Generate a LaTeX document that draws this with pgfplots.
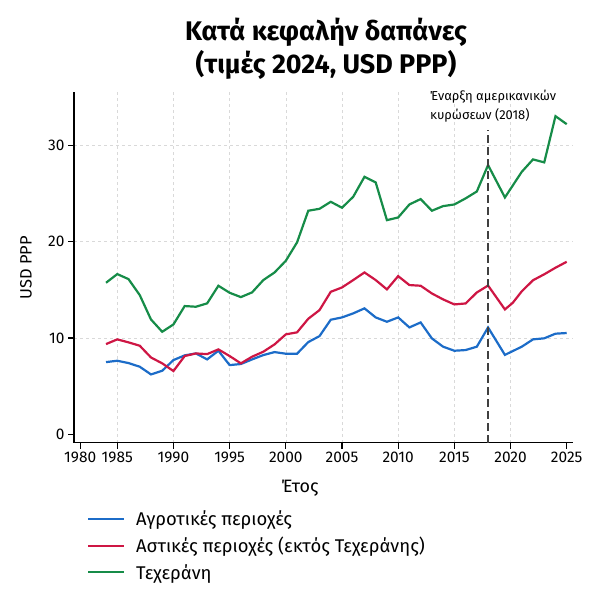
\documentclass[border=0pt]{standalone}
\usepackage{fontspec}
\setmainfont{Fira Sans}
\usepackage{pgfplots}
\pgfplotsset{compat=1.18}
\definecolor{cblue}{RGB}{28,108,200}
\definecolor{cred}{RGB}{206,22,68}
\definecolor{cgreen}{RGB}{22,140,72}
\begin{document}
\begin{tikzpicture}
\path[use as bounding box] (0,0) rectangle (596bp,600bp);
\begin{axis}[
 at={(74bp,157.3bp)}, anchor=south west,
 scale only axis, width=499bp, height=350.7bp,
 xmin=1981.15, xmax=2025.56, ymin=-0.87, ymax=35.55,
 axis x line*=bottom, axis y line*=left,
 axis line style={line width=1.4bp, -},
 xtick={1985,1990,...,2020}, ytick={10,20,30},
 xticklabels={1985,1990,1995,2000,2005,2010,2015,2020},
 extra x ticks={1981.7,2025}, extra x tick labels={1980,2025},
 extra y ticks={0}, extra y tick labels={0},
 extra tick style={grid=none},
 grid=major, major grid style={dash pattern=on 3bp off 3bp, line width=0.6bp, color=gray!30},
 tick align=outside, major tick length=6bp, tick style={line width=1.2bp, black},
 ticklabel style={font=\fontsize{15.5}{18}\selectfont},
 /pgf/number format/assume math mode=true,
 /pgf/number format/1000 sep={},
 clip=false,
 legend style={at={(0.026,-0.188)}, anchor=north west, draw=none, fill=none, inner sep=0pt,
   font=\fontsize{18.5}{21}\selectfont, row sep=6bp,
   /tikz/every odd column/.append style={column sep=9bp}},
 legend cell align=left,
 legend image code/.code={\draw[#1, line width=2bp] (0bp,0bp) -- (36bp,0bp);},
]
\addplot[cblue, line width=2.2bp] table[x=x,y=y] {
x y
1984 7.50
1985 7.64
1986 7.40
1987 7.02
1988 6.22
1989 6.60
1990 7.71
1991 8.20
1992 8.40
1993 7.78
1994 8.68
1995 7.19
1996 7.30
1997 7.78
1998 8.23
1999 8.54
2000 8.37
2001 8.37
2002 9.58
2003 10.2
2004 11.9
2005 12.14
2006 12.56
2007 13.08
2008 12.14
2009 11.69
2010 12.14
2011 11.10
2012 11.62
2013 9.96
2014 9.10
2015 8.68
2016 8.75
2017 9.10
2018 11.10
2019.5 8.25
2021 9.1
2022 9.86
2023 9.97
2024 10.45
2025 10.52
};
\addlegendentry{Αγροτικές περιοχές}
\addplot[cred, line width=2.2bp] table[x=x,y=y] {
x y
1984 9.37
1985 9.86
1986 9.55
1987 9.2
1988 7.98
1989 7.37
1990 6.57
1991 8.13
1992 8.40
1993 8.33
1994 8.82
1995 8.13
1996 7.37
1997 8.06
1998 8.58
1999 9.34
2000 10.38
2001 10.59
2002 12.0
2003 12.9
2004 14.8
2005 15.25
2006 16.02
2007 16.81
2008 16.02
2009 15.05
2010 16.43
2011 15.50
2012 15.43
2013 14.63
2014 14.01
2015 13.49
2016 13.59
2017 14.73
2018 15.45
2019.5 12.97
2020.2 13.66
2021 14.85
2022 16.0
2023 16.62
2024 17.3
2025 17.92
};
\addlegendentry{Αστικές περιοχές (εκτός Τεχεράνης)}
\addplot[cgreen, line width=2.2bp] table[x=x,y=y] {
x y
1984 15.74
1985 16.64
1986 16.12
1987 14.46
1988 11.93
1989 10.65
1990 11.41
1991 13.32
1992 13.25
1993 13.60
1994 15.43
1995 14.70
1996 14.25
1997 14.74
1998 16.02
1999 16.81
2000 18.02
2001 19.93
2002 23.22
2003 23.42
2004 24.15
2005 23.53
2006 24.67
2007 26.74
2008 26.16
2009 22.24
2010 22.52
2011 23.87
2012 24.43
2013 23.22
2014 23.70
2015 23.87
2016 24.50
2017 25.22
2018 27.96
2019.5 24.6
2021 27.26
2022 28.55
2023 28.24
2024 33.04
2025 32.21
};
\addlegendentry{Τεχεράνη}
\addplot[forget plot, black!75, line width=1.3bp, dash pattern=on 8bp off 4bp] coordinates {(2018,-0.87) (2018,31.6)};
\end{axis}
\node[anchor=base, font=\fontsize{27}{32}\selectfont\bfseries] at (326bp,559.3bp) {Κατά κεφαλήν δαπάνες};
\node[anchor=base, font=\fontsize{27}{32}\selectfont\bfseries] at (326bp,526.5bp) {(τιμές 2024, USD PPP)};
\node[anchor=west, inner sep=0pt, font=\fontsize{13}{15}\selectfont] at (430bp,503.3bp) {Έναρξη αμερικανικών};
\node[anchor=west, inner sep=0pt, font=\fontsize{13}{15}\selectfont] at (430bp,485bp) {κυρώσεων (2018)};
\node[font=\fontsize{18}{21}\selectfont] at (300bp,112bp) {Έτος};
\node[rotate=90, font=\fontsize{16.5}{19}\selectfont] at (26bp,332bp) {USD PPP};
\end{tikzpicture}
\end{document}
